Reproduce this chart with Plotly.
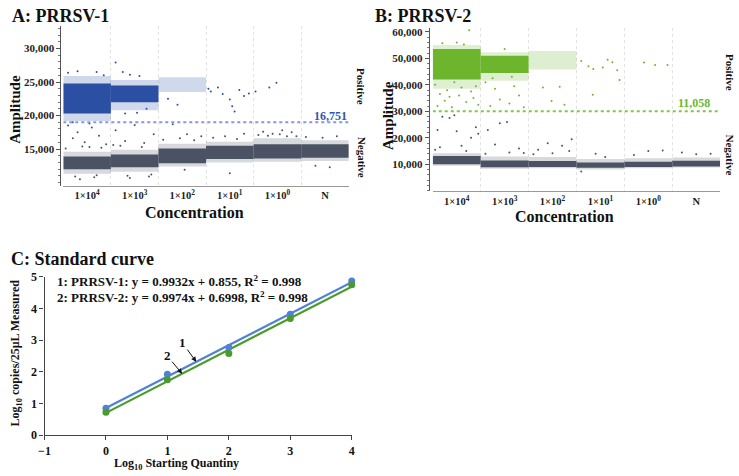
import plotly.graph_objects as go

W, H = 739, 476
SERIF = "Liberation Serif"

# ---------------- data ----------------
well_idx = [0, 1, 2, 3, 4, 5]
well_labels = ["1×10<sup>4</sup>", "1×10<sup>3</sup>", "1×10<sup>2</sup>",
               "1×10<sup>1</sup>", "1×10<sup>0</sup>", "N"]

# Panel A (PRRSV-1) dense droplet clouds, amplitude low/high per well
a_pos_core_lo = [20300, 22000, None, None, None, None]
a_pos_core_hi = [24800, 24500, None, None, None, None]
a_pos_halo_lo = [19200, 20800, 23500, None, None, None]
a_pos_halo_hi = [25900, 25300, 25700, None, None, None]
a_neg_core_lo = [12000, 12300, 12900, 13500, 13600, 13700]
a_neg_core_hi = [13900, 14200, 15100, 15500, 15700, 15700]
a_neg_halo_lo = [11300, 11600, 12400, 13000, 13100, 13200]
a_neg_halo_hi = [14600, 14900, 15800, 16100, 16600, 16300]
# sparse droplets: event position (well number + fraction of the well's run), amplitude
a_pos_sp_x = [0.1, 0.3, 0.7, 0.85, 0.2, 0.55, 1.1, 1.25, 1.4, 1.6, 1.3, 1.55, 1.75, 2.4, 2.2,
              3.05, 3.1, 3.25, 3.35, 3.5, 3.55, 3.6, 3.7, 3.8, 3.9, 4.04, 4.33, 4.48]
a_pos_sp_y = [26400, 26600, 26500, 26000, 19000, 18800, 27900, 26500, 26100, 25900, 20300, 20400,
              21000, 21600, 22500,
              24000, 23600, 24200, 23200, 22400, 21400, 20600, 23800, 22900, 23300, 23600, 24200, 24900]
a_neg_sp_x = [0.1, 0.2, 0.3, 0.45, 0.55, 0.6, 0.75, 0.9, 1.1, 1.3, 1.5, 1.7, 1.9, 2.3, 2.6, 2.9,
              3.4, 3.8, 4.2, 4.3, 4.4, 4.6, 4.7, 4.8, 0.35, 0.65, 1.4, 1.8, 3.5, 5.3, 5.6,
              0.05, 0.4, 0.8, 1.05, 1.2, 1.65, 2.1, 2.45, 2.75, 3.15, 3.65, 4.1, 4.55, 4.9, 5.1,
              5.45, 5.75, 0.25, 0.7, 1.35, 1.85, 2.55]
a_neg_sp_y = [18500, 16600, 17500, 16000, 15300, 18200, 17000, 15700, 17800, 16200, 18600, 15900,
              17200, 18700, 17200, 16900, 16900, 17300, 17600, 17000, 17300, 17800, 16900, 17500,
              10500, 10800, 10700, 10900, 11400, 12500, 12300,
              15100, 15400, 15200, 15600, 15500, 15300, 16400, 16600, 16300, 16700, 16500, 17100,
              17200, 16900, 16800, 16700, 16900, 10900, 11100, 11000, 11200, 11900]
a_threshold = 19000
a_threshold_label = "16,751"

# Panel B (PRRSV-2)
b_pos_core_lo = [42000, 44500, None, None, None, None]
b_pos_core_hi = [53500, 51000, None, None, None, None]
b_pos_halo_lo = [38500, 41500, 45800, None, None, None]
b_pos_halo_hi = [55000, 52300, 52800, None, None, None]
b_neg_core_lo = [10000, 8900, 9000, 8700, 9000, 9200]
b_neg_core_hi = [13200, 11500, 11300, 10700, 11000, 11400]
b_neg_halo_lo = [9500, 8300, 8500, 8100, 8500, 8800]
b_neg_halo_hi = [14200, 13000, 12800, 12000, 12300, 12600]
b_pos_sp_x = [0.1, 0.25, 0.4, 0.55, 0.7, 0.85, 0.95, 0.3, 0.6, 0.8, 0.15, 0.76, 0.5, 0.2, 0.65,
              0.05, 0.45, 0.9, 0.35,
              1.2, 1.4, 1.6, 1.8, 1.3, 1.7, 1.9, 1.1, 1.5, 1.25, 1.65,
              2.48, 2.65, 2.3, 2.75,
              3.1, 3.25, 3.35, 3.55, 3.65, 3.75, 3.85, 3.9, 3.34,
              4.41, 4.64, 4.9]
b_pos_sp_y = [32000, 34000, 31500, 36000, 33500, 35000, 32500, 38000, 39000, 37500, 36500, 60600,
              56000, 55700, 55200,
              40000, 41000, 39500, 35500,
              32000, 34500, 33000, 36000, 38500, 39500, 31500, 41000, 53500, 42500, 43000,
              33900, 39300, 39000, 32500,
              49000, 47000, 46000, 46500, 49500, 48500, 45500, 41800, 36300,
              48400, 47500, 47500]
b_neg_sp_x = [0.2, 0.35, 0.1, 0.5, 0.8, 0.9, 0.95, 0.6, 0.15, 0.45,
              1.15, 1.4, 1.55, 1.3, 1.8, 2.4, 2.7, 2.9, 2.2, 3.4, 3.1, 4.5, 5.2,
              0.05, 0.7, 1.1, 1.6, 2.1, 2.5, 3.6, 4.2, 4.8, 5.5, 5.8, 1.9, 2.85]
b_neg_sp_y = [28000, 27500, 23000, 22500, 20000, 24000, 21500, 17000, 16500, 28500,
              23000, 25500, 26000, 17500, 16000, 18000, 17000, 19500, 15500, 14000, 7300, 15000, 14500,
              15500, 15000, 14000, 14500, 13800, 14200, 12800, 13500, 15200, 13800, 14000, 14300, 15000]
b_threshold = 30000
b_threshold_label = "11,058"

# Panel C standard curve
c_x = [0, 1, 2, 3, 4]
c_prrsv1 = [0.85, 1.92, 2.77, 3.82, 4.87]
c_prrsv2 = [0.72, 1.75, 2.58, 3.68, 4.75]
c_slope1, c_int1 = 0.9932, 0.855
c_slope2, c_int2 = 0.9974, 0.6998
c_fit_x = [0, 4]

# ---------------- colours ----------------
BLUE = "#2b4fa3"
GRAY = "#4a5263"
GREEN = "#6cb52d"
C_BLUE = "#4f81d6"
C_GREEN = "#4b9a2c"


def px(x):
    return x / W


def py(y):
    return 1 - y / H


fig = go.Figure()


def bands(lo, hi, color, opacity, xa, ya):
    xs, base, hgt = [], [], []
    for i, l, h in zip(well_idx, lo, hi):
        if l is None:
            continue
        xs.append(i)
        base.append(l)
        hgt.append(h - l)
    fig.add_trace(go.Bar(x=xs, y=hgt, base=base, width=[1.0] * len(xs),
                         marker=dict(color=color, line=dict(width=0)),
                         opacity=opacity, xaxis=xa, yaxis=ya, showlegend=False,
                         hoverinfo="skip"))


def droplets(xs, ys, color, xa, ya):
    # event positions are given from the well's start; wells are centred on integers
    fig.add_trace(go.Scatter(x=[v - 0.5 for v in xs], y=ys, mode="markers",
                             marker=dict(color=color, size=2),
                             xaxis=xa, yaxis=ya, showlegend=False))


# Panel A
bands(a_pos_halo_lo, a_pos_halo_hi, BLUE, 0.22, "x", "y")
bands(a_neg_halo_lo, a_neg_halo_hi, GRAY, 0.22, "x", "y")
bands(a_pos_core_lo, a_pos_core_hi, BLUE, 1.0, "x", "y")
bands(a_neg_core_lo, a_neg_core_hi, GRAY, 1.0, "x", "y")
droplets(a_pos_sp_x, a_pos_sp_y, BLUE, "x", "y")
droplets(a_neg_sp_x, a_neg_sp_y, GRAY, "x", "y")
fig.add_trace(go.Scatter(x=[-0.5, 5.5], y=[a_threshold, a_threshold], mode="lines",
                         line=dict(color="#8596da", width=2, dash="dot"),
                         xaxis="x", yaxis="y", showlegend=False))

# Panel B
bands(b_pos_halo_lo, b_pos_halo_hi, GREEN, 0.22, "x2", "y2")
bands(b_neg_halo_lo, b_neg_halo_hi, GRAY, 0.22, "x2", "y2")
bands(b_pos_core_lo, b_pos_core_hi, GREEN, 1.0, "x2", "y2")
bands(b_neg_core_lo, b_neg_core_hi, GRAY, 1.0, "x2", "y2")
droplets(b_pos_sp_x, b_pos_sp_y, GREEN, "x2", "y2")
droplets(b_neg_sp_x, b_neg_sp_y, GRAY, "x2", "y2")
fig.add_trace(go.Scatter(x=[-0.5, 5.5], y=[b_threshold, b_threshold], mode="lines",
                         line=dict(color="#7cc84a", width=2, dash="dot"),
                         xaxis="x2", yaxis="y2", showlegend=False))

# Panel C
fig.add_trace(go.Scatter(x=c_fit_x, y=[c_slope1 * v + c_int1 for v in c_fit_x], mode="lines",
                         line=dict(color=C_BLUE, width=2.2), xaxis="x3", yaxis="y3",
                         showlegend=False))
fig.add_trace(go.Scatter(x=c_fit_x, y=[c_slope2 * v + c_int2 for v in c_fit_x], mode="lines",
                         line=dict(color=C_GREEN, width=2.2), xaxis="x3", yaxis="y3",
                         showlegend=False))
fig.add_trace(go.Scatter(x=c_x, y=c_prrsv1, mode="markers", cliponaxis=False,
                         marker=dict(color=C_BLUE, size=7), xaxis="x3", yaxis="y3",
                         showlegend=False))
fig.add_trace(go.Scatter(x=c_x, y=c_prrsv2, mode="markers", cliponaxis=False,
                         marker=dict(color=C_GREEN, size=7), xaxis="x3", yaxis="y3",
                         showlegend=False))

tickfont = dict(family=SERIF, size=11, color="#222", weight="bold")
welltickfont = dict(family=SERIF, size=10.5, color="#222", weight="bold")

well_x = dict(range=[-0.5, 5.5], tickvals=well_idx, ticktext=well_labels, showline=True,
              linecolor="#999", linewidth=1, ticks="", showgrid=False, zeroline=False,
              tickfont=welltickfont, fixedrange=True,
              minor=dict(tickvals=[0.5, 1.5, 2.5, 3.5, 4.5], showgrid=True,
                         gridcolor="#e2e2e2", griddash="dot", gridwidth=1, ticks=""))

fig.update_layout(
    width=W, height=H, margin=dict(l=0, r=0, t=0, b=0),
    paper_bgcolor="white", plot_bgcolor="white", barmode="overlay", showlegend=False,
    xaxis=dict(domain=[px(58), px(347)], anchor="y", **well_x),
    yaxis=dict(domain=[py(184), py(20)], range=[9550, 33300], anchor="free", position=px(55),
               tickvals=[15000, 20000, 25000, 30000], tickformat=",d", showline=True,
               linecolor="#555", ticks="outside", ticklen=4, tickcolor="#555",
               showgrid=False, zeroline=False, tickfont=tickfont,
               minor=dict(dtick=1000, ticks="outside", ticklen=2, tickcolor="#777")),
    xaxis2=dict(domain=[px(432), px(723)], anchor="y2", **well_x),
    yaxis2=dict(domain=[py(190), py(22)], range=[-200, 61300], anchor="free", position=px(428),
                tickvals=[10000, 20000, 30000, 40000, 50000, 60000], tickformat=",d",
                showline=True, linecolor="#555", ticks="outside", ticklen=4, tickcolor="#555",
                showgrid=False, zeroline=False, tickfont=tickfont,
                minor=dict(dtick=2000, ticks="outside", ticklen=2, tickcolor="#777")),
    xaxis3=dict(domain=[px(39), px(350)], range=[-1, 4], anchor="y3", tickvals=[-1, 0, 1, 2, 3, 4],
                showline=True, linecolor="#444", linewidth=1.2, ticks="outside", ticklen=4,
                tickcolor="#444", showgrid=False, zeroline=False,
                tickfont=dict(family=SERIF, size=12, color="#111", weight="bold")),
    yaxis3=dict(domain=[py(441), py(278)], range=[0, 5], anchor="x3", tickvals=[0, 1, 2, 3, 4, 5],
                showline=True, linecolor="#444", linewidth=1.2, ticks="outside", ticklen=4,
                tickcolor="#444", showgrid=False, zeroline=False,
                tickfont=dict(family=SERIF, size=12, color="#111", weight="bold")),
)


def note(text, x, y, size, color="#111", xanchor="center", yanchor="middle", angle=0):
    fig.add_annotation(text=text, x=px(x), y=py(y), xref="paper", yref="paper",
                       showarrow=False, xanchor=xanchor, yanchor=yanchor, textangle=angle,
                       font=dict(family=SERIF, size=size, color=color, weight="bold"))


note("A: PRRSV-1", 4, 9, 18, xanchor="left")
note("B: PRRSV-2", 372, 9, 18, xanchor="left")
note("C: Standard curve", 3, 260, 18, xanchor="left")
note("Amplitude", 9, 105, 15, angle=-90)
note("Amplitude", 386, 112, 15, angle=-90)
note("Concentration", 191, 212, 16)
note("Concentration", 565, 216, 16)
note("Positive", 360, 82, 11, angle=90)
note("Negative", 360, 155, 11, angle=90)
note("Positive", 733, 67, 11, angle=90)
note("Negative", 733, 152, 11, angle=90)
note(a_threshold_label, 347, 112, 12, color="#3555ad", xanchor="right")
note(b_threshold_label, 715, 99, 12, color="#6ab82e", xanchor="right")
note(f"1: PRRSV-1: y = {c_slope1}x + {c_int1}, R<sup>2</sup> = 0.998", 50, 282, 13, xanchor="left")
note(f"2: PRRSV-2: y = {c_slope2}x + {c_int2}, R<sup>2</sup> = 0.998", 50, 299, 13, xanchor="left")
note("Log<sub>10</sub> copies/25μL Measured", 10, 356, 12, angle=-90)
note("Log<sub>10</sub> Starting Quantiny", 173, 471, 12)

for lbl, xa, ya, axv, ayv in [("1", 1.47, c_slope1 * 1.47 + c_int1, -14, -19),
                              ("2", 1.24, c_slope2 * 1.24 + c_int2, -15, -18)]:
    fig.add_annotation(text=lbl, x=xa, y=ya, xref="x3", yref="y3", showarrow=True,
                       ax=axv, ay=ayv, arrowhead=2, arrowsize=1, arrowwidth=1,
                       arrowcolor="#111", standoff=0,
                       font=dict(family=SERIF, size=13, color="#111", weight="bold"))

fig.write_html("out.html")
